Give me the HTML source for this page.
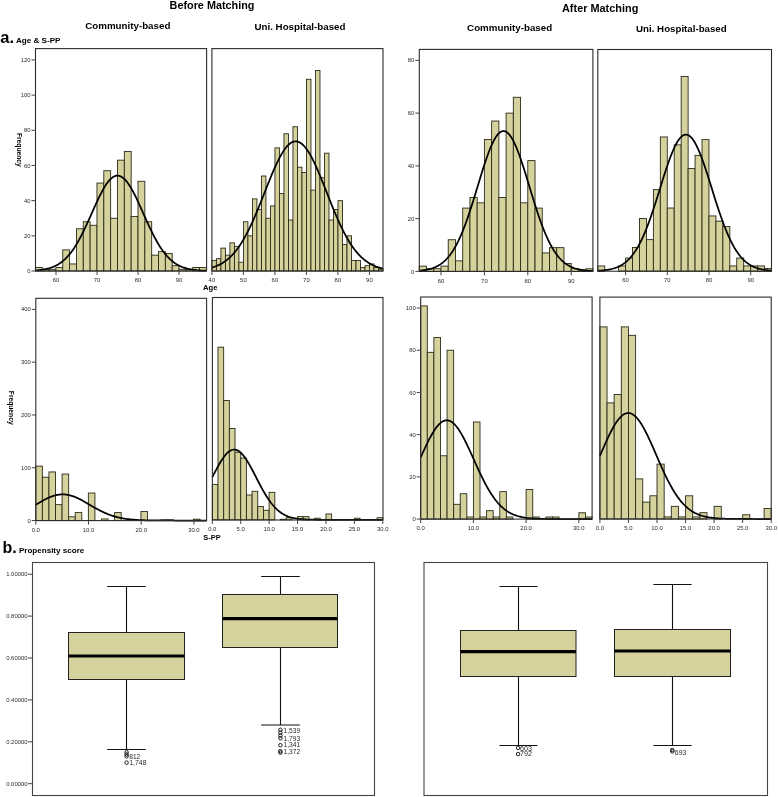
<!DOCTYPE html>
<html><head><meta charset="utf-8"><style>
html,body{margin:0;padding:0;background:#fff;}
body{width:778px;height:797px;overflow:hidden;}
svg{display:block;will-change:transform;}
text{font-family:"Liberation Sans",sans-serif;}
.tk{font-size:5.9px;fill:#2a2a2a;}
.ol{font-size:6.3px;fill:#2a2a2a;}
.h1{font-size:10.8px;font-weight:bold;fill:#000;}
.h2{font-size:9.2px;font-weight:bold;fill:#000;}
.h3{font-size:8px;font-weight:bold;fill:#000;}
.big{font-size:15.5px;font-weight:bold;fill:#000;}
.ax{font-size:6.7px;font-weight:bold;fill:#000;}
</style></head><body>
<svg width="778" height="797" viewBox="0 0 778 797">
<g fill="#d6d29d" stroke="#2b2b18" stroke-width="0.9"><rect x="35.4" y="267.48" width="6.84" height="3.52"/><rect x="42.24" y="269.24" width="6.84" height="1.76"/><rect x="49.08" y="269.24" width="6.84" height="1.76"/><rect x="55.92" y="267.48" width="6.84" height="3.52"/><rect x="62.76" y="249.89" width="6.84" height="21.11"/><rect x="69.6" y="263.96" width="6.84" height="7.04"/><rect x="76.44" y="228.78" width="6.84" height="42.22"/><rect x="83.28" y="221.75" width="6.84" height="49.25"/><rect x="90.12" y="225.27" width="6.84" height="45.73"/><rect x="96.96" y="183.05" width="6.84" height="87.95"/><rect x="103.8" y="170.74" width="6.84" height="100.26"/><rect x="110.64" y="218.23" width="6.84" height="52.77"/><rect x="117.48" y="160.18" width="6.84" height="110.82"/><rect x="124.32" y="151.39" width="6.84" height="119.61"/><rect x="131.16" y="216.47" width="6.84" height="54.53"/><rect x="138" y="181.29" width="6.84" height="89.71"/><rect x="144.84" y="221.75" width="6.84" height="49.25"/><rect x="151.68" y="255.17" width="6.84" height="15.83"/><rect x="158.52" y="251.65" width="6.84" height="19.35"/><rect x="165.36" y="253.41" width="6.84" height="17.59"/><rect x="172.2" y="265.72" width="6.84" height="5.28"/><rect x="179.04" y="269.24" width="6.84" height="1.76"/><rect x="185.88" y="269.24" width="6.84" height="1.76"/><rect x="192.72" y="267.48" width="6.84" height="3.52"/><rect x="199.56" y="267.48" width="6.84" height="3.52"/></g>
<polyline fill="none" stroke="#000" stroke-width="1.75" stroke-linejoin="round" points="35.5,270.41 36.35,270.35 37.21,270.27 38.06,270.2 38.91,270.11 39.76,270.01 40.62,269.91 41.47,269.8 42.32,269.68 43.18,269.54 44.03,269.39 44.88,269.24 45.73,269.06 46.59,268.88 47.44,268.68 48.29,268.46 49.14,268.22 50,267.97 50.85,267.69 51.7,267.4 52.56,267.08 53.41,266.74 54.26,266.37 55.11,265.98 55.97,265.57 56.82,265.12 57.67,264.64 58.53,264.14 59.38,263.6 60.23,263.03 61.08,262.42 61.94,261.78 62.79,261.1 63.64,260.38 64.5,259.62 65.35,258.82 66.2,257.98 67.05,257.1 67.91,256.17 68.76,255.2 69.61,254.18 70.46,253.12 71.32,252.01 72.17,250.86 73.02,249.66 73.88,248.41 74.73,247.11 75.58,245.77 76.43,244.38 77.29,242.95 78.14,241.47 78.99,239.95 79.85,238.39 80.7,236.78 81.55,235.14 82.4,233.46 83.26,231.74 84.11,229.99 84.96,228.21 85.82,226.39 86.67,224.56 87.52,222.7 88.37,220.82 89.23,218.93 90.08,217.02 90.93,215.11 91.78,213.19 92.64,211.28 93.49,209.36 94.34,207.46 95.2,205.57 96.05,203.69 96.9,201.84 97.75,200.02 98.61,198.23 99.46,196.47 100.31,194.76 101.17,193.09 102.02,191.47 102.87,189.91 103.72,188.41 104.58,186.98 105.43,185.61 106.28,184.32 107.14,183.1 107.99,181.97 108.84,180.92 109.69,179.96 110.55,179.09 111.4,178.31 112.25,177.63 113.1,177.05 113.96,176.56 114.81,176.18 115.66,175.91 116.52,175.73 117.37,175.66 118.22,175.7 119.07,175.84 119.93,176.09 120.78,176.44 121.63,176.89 122.49,177.44 123.34,178.09 124.19,178.84 125.04,179.68 125.9,180.61 126.75,181.64 127.6,182.75 128.46,183.94 129.31,185.21 130.16,186.55 131.01,187.97 131.87,189.45 132.72,190.99 133.57,192.59 134.42,194.24 135.28,195.94 136.13,197.68 136.98,199.46 137.84,201.28 138.69,203.12 139.54,204.99 140.39,206.87 141.25,208.78 142.1,210.69 142.95,212.6 143.81,214.52 144.66,216.44 145.51,218.34 146.36,220.24 147.22,222.12 148.07,223.99 148.92,225.83 149.78,227.65 150.63,229.44 151.48,231.2 152.33,232.93 153.19,234.63 154.04,236.28 154.89,237.9 155.74,239.48 156.6,241.01 157.45,242.5 158.3,243.95 159.16,245.35 160.01,246.71 160.86,248.01 161.71,249.28 162.57,250.49 163.42,251.66 164.27,252.79 165.13,253.86 165.98,254.89 166.83,255.88 167.68,256.82 168.54,257.71 169.39,258.57 170.24,259.38 171.1,260.15 171.95,260.88 172.8,261.57 173.65,262.23 174.51,262.84 175.36,263.43 176.21,263.98 177.06,264.49 177.92,264.98 178.77,265.43 179.62,265.86 180.48,266.26 181.33,266.63 182.18,266.98 183.03,267.3 183.89,267.6 184.74,267.88 185.59,268.14 186.45,268.39 187.3,268.61 188.15,268.82 189,269.01 189.86,269.18 190.71,269.35 191.56,269.5 192.42,269.63 193.27,269.76 194.12,269.88 194.97,269.98 195.83,270.08 196.68,270.17 197.53,270.25 198.38,270.32 199.24,270.39 200.09,270.45 200.94,270.51 201.8,270.56 202.65,270.6 203.5,270.65 204.35,270.68 205.21,270.72 206.06,270.75"/>
<rect x="35.5" y="48.6" width="171.1" height="222.4" fill="none" stroke="#2c2c2c" stroke-width="1.1"/>
<line x1="31.5" y1="271" x2="35.5" y2="271" stroke="#444" stroke-width="1"/>
<text x="30.5" y="273.1" class="tk" text-anchor="end">0</text>
<line x1="31.5" y1="235.82" x2="35.5" y2="235.82" stroke="#444" stroke-width="1"/>
<text x="30.5" y="237.92" class="tk" text-anchor="end">20</text>
<line x1="31.5" y1="200.64" x2="35.5" y2="200.64" stroke="#444" stroke-width="1"/>
<text x="30.5" y="202.74" class="tk" text-anchor="end">40</text>
<line x1="31.5" y1="165.46" x2="35.5" y2="165.46" stroke="#444" stroke-width="1"/>
<text x="30.5" y="167.56" class="tk" text-anchor="end">60</text>
<line x1="31.5" y1="130.28" x2="35.5" y2="130.28" stroke="#444" stroke-width="1"/>
<text x="30.5" y="132.38" class="tk" text-anchor="end">80</text>
<line x1="31.5" y1="95.1" x2="35.5" y2="95.1" stroke="#444" stroke-width="1"/>
<text x="30.5" y="97.2" class="tk" text-anchor="end">100</text>
<line x1="31.5" y1="59.92" x2="35.5" y2="59.92" stroke="#444" stroke-width="1"/>
<text x="30.5" y="62.02" class="tk" text-anchor="end">120</text>
<line x1="56" y1="271" x2="56" y2="275" stroke="#444" stroke-width="1"/>
<text x="56" y="282.1" class="tk" text-anchor="middle">60</text>
<line x1="97" y1="271" x2="97" y2="275" stroke="#444" stroke-width="1"/>
<text x="97" y="282.1" class="tk" text-anchor="middle">70</text>
<line x1="138" y1="271" x2="138" y2="275" stroke="#444" stroke-width="1"/>
<text x="138" y="282.1" class="tk" text-anchor="middle">80</text>
<line x1="179" y1="271" x2="179" y2="275" stroke="#444" stroke-width="1"/>
<text x="179" y="282.1" class="tk" text-anchor="middle">90</text>
<g fill="#d6d29d" stroke="#2b2b18" stroke-width="0.9"><rect x="211.9" y="260.45" width="4.5" height="10.55"/><rect x="216.4" y="258.69" width="4.5" height="12.31"/><rect x="220.91" y="248.13" width="4.5" height="22.87"/><rect x="225.41" y="255.17" width="4.5" height="15.83"/><rect x="229.91" y="242.86" width="4.5" height="28.14"/><rect x="234.42" y="246.37" width="4.5" height="24.63"/><rect x="238.92" y="262.2" width="4.5" height="8.8"/><rect x="243.42" y="221.75" width="4.5" height="49.25"/><rect x="247.92" y="235.82" width="4.5" height="35.18"/><rect x="252.43" y="198.88" width="4.5" height="72.12"/><rect x="256.93" y="209.44" width="4.5" height="61.56"/><rect x="261.43" y="176.01" width="4.5" height="94.99"/><rect x="265.94" y="218.23" width="4.5" height="52.77"/><rect x="270.44" y="205.92" width="4.5" height="65.08"/><rect x="274.94" y="147.87" width="4.5" height="123.13"/><rect x="279.44" y="193.6" width="4.5" height="77.4"/><rect x="283.95" y="133.8" width="4.5" height="137.2"/><rect x="288.45" y="219.99" width="4.5" height="51.01"/><rect x="292.95" y="126.76" width="4.5" height="144.24"/><rect x="297.46" y="167.22" width="4.5" height="103.78"/><rect x="301.96" y="172.5" width="4.5" height="98.5"/><rect x="306.46" y="79.27" width="4.5" height="191.73"/><rect x="310.97" y="190.09" width="4.5" height="80.91"/><rect x="315.47" y="70.47" width="4.5" height="200.53"/><rect x="319.97" y="177.77" width="4.5" height="93.23"/><rect x="324.48" y="153.15" width="4.5" height="117.85"/><rect x="328.98" y="219.99" width="4.5" height="51.01"/><rect x="333.48" y="209.44" width="4.5" height="61.56"/><rect x="337.98" y="200.64" width="4.5" height="70.36"/><rect x="342.49" y="244.62" width="4.5" height="26.38"/><rect x="346.99" y="235.82" width="4.5" height="35.18"/><rect x="351.49" y="260.45" width="4.5" height="10.55"/><rect x="356" y="260.45" width="4.5" height="10.55"/><rect x="360.5" y="267.48" width="4.5" height="3.52"/><rect x="365" y="265.72" width="4.5" height="5.28"/><rect x="369.5" y="263.96" width="4.5" height="7.04"/><rect x="374.01" y="267.48" width="4.5" height="3.52"/><rect x="378.51" y="269.24" width="4.5" height="1.76"/></g>
<polyline fill="none" stroke="#000" stroke-width="1.75" stroke-linejoin="round" points="211.9,267.62 212.76,267.36 213.61,267.08 214.47,266.79 215.32,266.47 216.18,266.14 217.03,265.79 217.89,265.41 218.74,265.01 219.6,264.59 220.45,264.15 221.31,263.68 222.16,263.18 223.02,262.65 223.87,262.1 224.73,261.52 225.58,260.9 226.44,260.26 227.29,259.58 228.15,258.87 229,258.13 229.86,257.35 230.71,256.53 231.57,255.68 232.43,254.78 233.28,253.85 234.14,252.88 234.99,251.87 235.85,250.82 236.7,249.73 237.56,248.59 238.41,247.41 239.27,246.19 240.12,244.92 240.98,243.61 241.83,242.26 242.69,240.86 243.54,239.42 244.4,237.94 245.25,236.41 246.11,234.84 246.96,233.22 247.82,231.57 248.67,229.87 249.53,228.13 250.39,226.36 251.24,224.54 252.1,222.69 252.95,220.8 253.81,218.88 254.66,216.92 255.52,214.93 256.37,212.92 257.23,210.88 258.08,208.81 258.94,206.72 259.79,204.61 260.65,202.49 261.5,200.35 262.36,198.2 263.21,196.04 264.07,193.87 264.92,191.71 265.78,189.54 266.63,187.38 267.49,185.23 268.34,183.08 269.2,180.96 270.06,178.85 270.91,176.76 271.77,174.7 272.62,172.67 273.48,170.67 274.33,168.71 275.19,166.79 276.04,164.91 276.9,163.09 277.75,161.31 278.61,159.59 279.46,157.93 280.32,156.33 281.17,154.8 282.03,153.34 282.88,151.95 283.74,150.63 284.59,149.39 285.45,148.23 286.3,147.16 287.16,146.17 288.02,145.27 288.87,144.46 289.73,143.74 290.58,143.11 291.44,142.57 292.29,142.14 293.15,141.8 294,141.55 294.86,141.41 295.71,141.36 296.57,141.41 297.42,141.56 298.28,141.81 299.13,142.16 299.99,142.6 300.84,143.14 301.7,143.77 302.55,144.5 303.41,145.31 304.26,146.22 305.12,147.21 305.97,148.29 306.83,149.45 307.69,150.7 308.54,152.02 309.4,153.41 310.25,154.88 311.11,156.41 311.96,158.02 312.82,159.68 313.67,161.4 314.53,163.18 315.38,165.01 316.24,166.89 317.09,168.81 317.95,170.77 318.8,172.77 319.66,174.8 320.51,176.87 321.37,178.96 322.22,181.07 323.08,183.19 323.93,185.34 324.79,187.49 325.64,189.65 326.5,191.82 327.36,193.99 328.21,196.15 329.07,198.31 329.92,200.46 330.78,202.6 331.63,204.72 332.49,206.83 333.34,208.92 334.2,210.98 335.05,213.02 335.91,215.04 336.76,217.02 337.62,218.98 338.47,220.9 339.33,222.78 340.18,224.63 341.04,226.45 341.89,228.22 342.75,229.96 343.6,231.65 344.46,233.31 345.32,234.92 346.17,236.49 347.03,238.02 347.88,239.5 348.74,240.94 349.59,242.33 350.45,243.68 351.3,244.99 352.16,246.25 353.01,247.47 353.87,248.65 354.72,249.78 355.58,250.87 356.43,251.92 357.29,252.93 358.14,253.9 359,254.83 359.85,255.72 360.71,256.57 361.56,257.39 362.42,258.17 363.27,258.91 364.13,259.62 364.99,260.29 365.84,260.94 366.7,261.55 367.55,262.13 368.41,262.68 369.26,263.2 370.12,263.7 370.97,264.17 371.83,264.61 372.68,265.03 373.54,265.43 374.39,265.8 375.25,266.16 376.1,266.49 376.96,266.8 377.81,267.1 378.67,267.37 379.52,267.63 380.38,267.87 381.23,268.1 382.09,268.31 382.94,268.51"/>
<rect x="211.9" y="48.6" width="171.1" height="222.4" fill="none" stroke="#2c2c2c" stroke-width="1.1"/>
<line x1="211.9" y1="271" x2="211.9" y2="275" stroke="#444" stroke-width="1"/>
<text x="211.9" y="282.1" class="tk" text-anchor="middle">40</text>
<line x1="243.4" y1="271" x2="243.4" y2="275" stroke="#444" stroke-width="1"/>
<text x="243.4" y="282.1" class="tk" text-anchor="middle">50</text>
<line x1="274.9" y1="271" x2="274.9" y2="275" stroke="#444" stroke-width="1"/>
<text x="274.9" y="282.1" class="tk" text-anchor="middle">60</text>
<line x1="306.4" y1="271" x2="306.4" y2="275" stroke="#444" stroke-width="1"/>
<text x="306.4" y="282.1" class="tk" text-anchor="middle">70</text>
<line x1="337.9" y1="271" x2="337.9" y2="275" stroke="#444" stroke-width="1"/>
<text x="337.9" y="282.1" class="tk" text-anchor="middle">80</text>
<line x1="369.4" y1="271" x2="369.4" y2="275" stroke="#444" stroke-width="1"/>
<text x="369.4" y="282.1" class="tk" text-anchor="middle">90</text>
<g fill="#d6d29d" stroke="#2b2b18" stroke-width="0.9"><rect x="419.3" y="266.12" width="7.23" height="5.28"/><rect x="426.53" y="268.76" width="7.23" height="2.64"/><rect x="433.77" y="268.76" width="7.23" height="2.64"/><rect x="441" y="266.12" width="7.23" height="5.28"/><rect x="448.23" y="239.74" width="7.23" height="31.66"/><rect x="455.47" y="260.85" width="7.23" height="10.55"/><rect x="462.7" y="208.09" width="7.23" height="63.31"/><rect x="469.93" y="197.54" width="7.23" height="73.86"/><rect x="477.16" y="202.81" width="7.23" height="68.59"/><rect x="484.4" y="139.5" width="7.23" height="131.9"/><rect x="491.63" y="121.03" width="7.23" height="150.37"/><rect x="498.86" y="197.54" width="7.23" height="73.86"/><rect x="506.1" y="113.12" width="7.23" height="158.28"/><rect x="513.33" y="97.29" width="7.23" height="174.11"/><rect x="520.56" y="202.81" width="7.23" height="68.59"/><rect x="527.79" y="160.6" width="7.23" height="110.8"/><rect x="535.03" y="208.09" width="7.23" height="63.31"/><rect x="542.26" y="252.93" width="7.23" height="18.47"/><rect x="549.49" y="247.66" width="7.23" height="23.74"/><rect x="556.73" y="247.66" width="7.23" height="23.74"/><rect x="563.96" y="263.49" width="7.23" height="7.91"/><rect x="571.19" y="268.76" width="7.23" height="2.64"/><rect x="578.43" y="270.08" width="7.23" height="1.32"/><rect x="585.66" y="268.76" width="7.23" height="2.64"/></g>
<polyline fill="none" stroke="#000" stroke-width="1.75" stroke-linejoin="round" points="419.3,270.71 420.17,270.63 421.04,270.54 421.9,270.45 422.77,270.34 423.64,270.22 424.51,270.1 425.38,269.95 426.24,269.8 427.11,269.63 427.98,269.45 428.85,269.25 429.72,269.03 430.58,268.79 431.45,268.54 432.32,268.26 433.19,267.95 434.06,267.62 434.92,267.27 435.79,266.89 436.66,266.47 437.53,266.03 438.4,265.55 439.26,265.04 440.13,264.49 441,263.9 441.87,263.26 442.74,262.59 443.6,261.87 444.47,261.1 445.34,260.29 446.21,259.42 447.08,258.5 447.94,257.52 448.81,256.49 449.68,255.4 450.55,254.25 451.42,253.04 452.28,251.76 453.15,250.42 454.02,249.01 454.89,247.53 455.76,245.99 456.62,244.38 457.49,242.69 458.36,240.94 459.23,239.11 460.1,237.22 460.96,235.25 461.83,233.21 462.7,231.11 463.57,228.93 464.44,226.69 465.3,224.39 466.17,222.02 467.04,219.59 467.91,217.11 468.78,214.56 469.64,211.97 470.51,209.33 471.38,206.64 472.25,203.91 473.12,201.15 473.98,198.36 474.85,195.54 475.72,192.7 476.59,189.85 477.46,186.99 478.32,184.13 479.19,181.28 480.06,178.43 480.93,175.61 481.8,172.81 482.66,170.04 483.53,167.31 484.4,164.63 485.27,162.01 486.14,159.44 487,156.95 487.87,154.53 488.74,152.2 489.61,149.96 490.48,147.81 491.34,145.77 492.21,143.84 493.08,142.02 493.95,140.33 494.82,138.77 495.68,137.34 496.55,136.04 497.42,134.89 498.29,133.88 499.16,133.03 500.02,132.32 500.89,131.77 501.76,131.38 502.63,131.14 503.5,131.06 504.36,131.14 505.23,131.38 506.1,131.77 506.97,132.32 507.84,133.03 508.7,133.88 509.57,134.89 510.44,136.04 511.31,137.34 512.18,138.77 513.04,140.33 513.91,142.02 514.78,143.84 515.65,145.77 516.52,147.81 517.38,149.96 518.25,152.2 519.12,154.53 519.99,156.95 520.86,159.44 521.72,162.01 522.59,164.63 523.46,167.31 524.33,170.04 525.2,172.81 526.06,175.61 526.93,178.43 527.8,181.28 528.67,184.13 529.54,186.99 530.4,189.85 531.27,192.7 532.14,195.54 533.01,198.36 533.88,201.15 534.74,203.91 535.61,206.64 536.48,209.33 537.35,211.97 538.22,214.56 539.08,217.11 539.95,219.59 540.82,222.02 541.69,224.39 542.56,226.69 543.42,228.93 544.29,231.11 545.16,233.21 546.03,235.25 546.9,237.22 547.76,239.11 548.63,240.94 549.5,242.69 550.37,244.38 551.24,245.99 552.1,247.53 552.97,249.01 553.84,250.42 554.71,251.76 555.58,253.04 556.44,254.25 557.31,255.4 558.18,256.49 559.05,257.52 559.92,258.5 560.78,259.42 561.65,260.29 562.52,261.1 563.39,261.87 564.26,262.59 565.12,263.26 565.99,263.9 566.86,264.49 567.73,265.04 568.6,265.55 569.46,266.03 570.33,266.47 571.2,266.89 572.07,267.27 572.94,267.62 573.8,267.95 574.67,268.26 575.54,268.54 576.41,268.79 577.28,269.03 578.14,269.25 579.01,269.45 579.88,269.63 580.75,269.8 581.62,269.95 582.48,270.1 583.35,270.22 584.22,270.34 585.09,270.45 585.96,270.54 586.82,270.63 587.69,270.71 588.56,270.78 589.43,270.85 590.3,270.91 591.16,270.96 592.03,271.01 592.9,271.05"/>
<rect x="419.3" y="49.4" width="173.6" height="222" fill="none" stroke="#2c2c2c" stroke-width="1.1"/>
<line x1="415.3" y1="271.4" x2="419.3" y2="271.4" stroke="#444" stroke-width="1"/>
<text x="414.3" y="273.5" class="tk" text-anchor="end">0</text>
<line x1="415.3" y1="218.64" x2="419.3" y2="218.64" stroke="#444" stroke-width="1"/>
<text x="414.3" y="220.74" class="tk" text-anchor="end">20</text>
<line x1="415.3" y1="165.88" x2="419.3" y2="165.88" stroke="#444" stroke-width="1"/>
<text x="414.3" y="167.98" class="tk" text-anchor="end">40</text>
<line x1="415.3" y1="113.12" x2="419.3" y2="113.12" stroke="#444" stroke-width="1"/>
<text x="414.3" y="115.22" class="tk" text-anchor="end">60</text>
<line x1="415.3" y1="60.36" x2="419.3" y2="60.36" stroke="#444" stroke-width="1"/>
<text x="414.3" y="62.46" class="tk" text-anchor="end">80</text>
<line x1="441" y1="271.4" x2="441" y2="275.4" stroke="#444" stroke-width="1"/>
<text x="441" y="282.5" class="tk" text-anchor="middle">60</text>
<line x1="484.4" y1="271.4" x2="484.4" y2="275.4" stroke="#444" stroke-width="1"/>
<text x="484.4" y="282.5" class="tk" text-anchor="middle">70</text>
<line x1="527.8" y1="271.4" x2="527.8" y2="275.4" stroke="#444" stroke-width="1"/>
<text x="527.8" y="282.5" class="tk" text-anchor="middle">80</text>
<line x1="571.2" y1="271.4" x2="571.2" y2="275.4" stroke="#444" stroke-width="1"/>
<text x="571.2" y="282.5" class="tk" text-anchor="middle">90</text>
<g fill="#d6d29d" stroke="#2b2b18" stroke-width="0.9"><rect x="597.8" y="265.94" width="6.95" height="5.26"/><rect x="618.64" y="265.94" width="6.95" height="5.26"/><rect x="625.59" y="258.04" width="6.95" height="13.16"/><rect x="632.54" y="247.51" width="6.95" height="23.69"/><rect x="639.49" y="218.56" width="6.95" height="52.64"/><rect x="646.44" y="239.62" width="6.95" height="31.58"/><rect x="653.38" y="189.61" width="6.95" height="81.59"/><rect x="660.33" y="136.97" width="6.95" height="134.23"/><rect x="667.28" y="208.03" width="6.95" height="63.17"/><rect x="674.23" y="144.86" width="6.95" height="126.34"/><rect x="681.18" y="76.43" width="6.95" height="194.77"/><rect x="688.12" y="168.55" width="6.95" height="102.65"/><rect x="695.07" y="155.39" width="6.95" height="115.81"/><rect x="702.02" y="139.6" width="6.95" height="131.6"/><rect x="708.97" y="215.93" width="6.95" height="55.27"/><rect x="715.92" y="221.19" width="6.95" height="50.01"/><rect x="722.86" y="226.46" width="6.95" height="44.74"/><rect x="729.81" y="265.94" width="6.95" height="5.26"/><rect x="736.76" y="258.04" width="6.95" height="13.16"/><rect x="743.71" y="265.94" width="6.95" height="5.26"/><rect x="750.66" y="265.94" width="6.95" height="5.26"/><rect x="757.6" y="265.94" width="6.95" height="5.26"/><rect x="764.55" y="268.57" width="6.95" height="2.63"/></g>
<polyline fill="none" stroke="#000" stroke-width="1.75" stroke-linejoin="round" points="597.8,270.79 598.67,270.74 599.54,270.69 600.41,270.62 601.28,270.56 602.14,270.48 603.01,270.4 603.88,270.31 604.75,270.21 605.62,270.1 606.49,269.98 607.36,269.85 608.23,269.7 609.09,269.55 609.96,269.37 610.83,269.19 611.7,268.98 612.57,268.76 613.44,268.51 614.31,268.25 615.18,267.96 616.05,267.65 616.91,267.32 617.78,266.96 618.65,266.57 619.52,266.15 620.39,265.7 621.26,265.21 622.13,264.69 623,264.13 623.86,263.53 624.73,262.89 625.6,262.21 626.47,261.48 627.34,260.71 628.21,259.88 629.08,259.01 629.95,258.08 630.82,257.1 631.68,256.06 632.55,254.96 633.42,253.81 634.29,252.59 635.16,251.31 636.03,249.96 636.9,248.55 637.77,247.08 638.63,245.54 639.5,243.92 640.37,242.24 641.24,240.5 642.11,238.68 642.98,236.79 643.85,234.84 644.72,232.82 645.59,230.73 646.45,228.58 647.32,226.36 648.19,224.08 649.06,221.74 649.93,219.34 650.8,216.89 651.67,214.38 652.54,211.83 653.4,209.23 654.27,206.6 655.14,203.92 656.01,201.22 656.88,198.48 657.75,195.73 658.62,192.96 659.49,190.18 660.36,187.4 661.22,184.61 662.09,181.84 662.96,179.08 663.83,176.35 664.7,173.64 665.57,170.97 666.44,168.34 667.31,165.76 668.17,163.24 669.04,160.79 669.91,158.41 670.78,156.1 671.65,153.88 672.52,151.75 673.39,149.72 674.26,147.8 675.12,145.99 675.99,144.29 676.86,142.72 677.73,141.27 678.6,139.95 679.47,138.78 680.34,137.74 681.21,136.84 682.08,136.1 682.94,135.5 683.81,135.05 684.68,134.75 685.55,134.61 686.42,134.63 687.29,134.79 688.16,135.11 689.03,135.59 689.89,136.21 690.76,136.98 691.63,137.9 692.5,138.96 693.37,140.17 694.24,141.5 695.11,142.97 695.98,144.57 696.85,146.28 697.71,148.12 698.58,150.06 699.45,152.1 700.32,154.25 701.19,156.48 702.06,158.8 702.93,161.2 703.8,163.66 704.66,166.19 705.53,168.78 706.4,171.42 707.27,174.09 708.14,176.81 709.01,179.55 709.88,182.31 710.75,185.08 711.62,187.86 712.48,190.65 713.35,193.43 714.22,196.19 715.09,198.94 715.96,201.67 716.83,204.37 717.7,207.04 718.57,209.67 719.43,212.26 720.3,214.81 721.17,217.3 722.04,219.75 722.91,222.14 723.78,224.47 724.65,226.74 725.52,228.94 726.39,231.09 727.25,233.16 728.12,235.17 728.99,237.12 729.86,238.99 730.73,240.8 731.6,242.53 732.47,244.2 733.34,245.8 734.2,247.33 735.07,248.8 735.94,250.2 736.81,251.53 737.68,252.8 738.55,254.01 739.42,255.15 740.29,256.24 741.16,257.27 742.02,258.24 742.89,259.16 743.76,260.02 744.63,260.84 745.5,261.61 746.37,262.33 747.24,263 748.11,263.63 748.97,264.23 749.84,264.78 750.71,265.29 751.58,265.77 752.45,266.22 753.32,266.64 754.19,267.02 755.06,267.38 755.93,267.71 756.79,268.01 757.66,268.3 758.53,268.56 759.4,268.8 760.27,269.02 761.14,269.22 762.01,269.4 762.88,269.57 763.74,269.73 764.61,269.87 765.48,270 766.35,270.12 767.22,270.23 768.09,270.33 768.96,270.41 769.83,270.5 770.7,270.57 771.56,270.63"/>
<rect x="597.8" y="49.5" width="173.7" height="221.7" fill="none" stroke="#2c2c2c" stroke-width="1.1"/>
<line x1="625.61" y1="271.2" x2="625.61" y2="275.2" stroke="#444" stroke-width="1"/>
<text x="625.61" y="282.3" class="tk" text-anchor="middle">60</text>
<line x1="667.31" y1="271.2" x2="667.31" y2="275.2" stroke="#444" stroke-width="1"/>
<text x="667.31" y="282.3" class="tk" text-anchor="middle">70</text>
<line x1="709.01" y1="271.2" x2="709.01" y2="275.2" stroke="#444" stroke-width="1"/>
<text x="709.01" y="282.3" class="tk" text-anchor="middle">80</text>
<line x1="750.71" y1="271.2" x2="750.71" y2="275.2" stroke="#444" stroke-width="1"/>
<text x="750.71" y="282.3" class="tk" text-anchor="middle">90</text>
<g fill="#d6d29d" stroke="#2b2b18" stroke-width="0.9"><rect x="35.8" y="466.14" width="6.57" height="54.36"/><rect x="42.37" y="477.22" width="6.57" height="43.28"/><rect x="48.94" y="471.94" width="6.57" height="48.56"/><rect x="55.51" y="504.67" width="6.57" height="15.83"/><rect x="62.08" y="474.05" width="6.57" height="46.45"/><rect x="68.65" y="516.81" width="6.57" height="3.69"/><rect x="75.22" y="512.58" width="6.57" height="7.92"/><rect x="88.36" y="493.05" width="6.57" height="27.45"/><rect x="101.5" y="518.92" width="6.57" height="1.58"/><rect x="114.64" y="512.58" width="6.57" height="7.92"/><rect x="140.92" y="511.53" width="6.57" height="8.97"/><rect x="160.63" y="519.97" width="6.57" height="0.53"/><rect x="167.2" y="519.97" width="6.57" height="0.53"/><rect x="193.48" y="519.18" width="6.57" height="1.32"/></g>
<polyline fill="none" stroke="#000" stroke-width="1.75" stroke-linejoin="round" points="35.8,504.65 36.65,504.15 37.51,503.65 38.36,503.15 39.21,502.65 40.07,502.16 40.92,501.67 41.78,501.19 42.63,500.72 43.48,500.25 44.34,499.8 45.19,499.36 46.04,498.93 46.9,498.51 47.75,498.11 48.61,497.72 49.46,497.35 50.31,497 51.17,496.66 52.02,496.35 52.87,496.05 53.73,495.78 54.58,495.53 55.44,495.31 56.29,495.1 57.14,494.92 58,494.77 58.85,494.64 59.7,494.53 60.56,494.45 61.41,494.4 62.27,494.38 63.12,494.38 63.97,494.4 64.83,494.46 65.68,494.54 66.53,494.64 67.39,494.77 68.24,494.93 69.1,495.11 69.95,495.31 70.8,495.54 71.66,495.79 72.51,496.07 73.36,496.36 74.22,496.67 75.07,497.01 75.93,497.36 76.78,497.73 77.63,498.12 78.49,498.52 79.34,498.94 80.19,499.37 81.05,499.82 81.9,500.27 82.76,500.74 83.61,501.21 84.46,501.69 85.32,502.18 86.17,502.67 87.02,503.17 87.88,503.67 88.73,504.17 89.59,504.67 90.44,505.18 91.29,505.68 92.15,506.18 93,506.68 93.85,507.17 94.71,507.66 95.56,508.14 96.42,508.62 97.27,509.09 98.12,509.55 98.98,510.01 99.83,510.45 100.68,510.89 101.54,511.31 102.39,511.73 103.25,512.14 104.1,512.53 104.95,512.92 105.81,513.29 106.66,513.65 107.51,514 108.37,514.34 109.22,514.67 110.08,514.98 110.93,515.29 111.78,515.58 112.64,515.86 113.49,516.13 114.34,516.38 115.2,516.63 116.05,516.86 116.91,517.09 117.76,517.3 118.61,517.5 119.47,517.7 120.32,517.88 121.17,518.05 122.03,518.22 122.88,518.37 123.74,518.52 124.59,518.66 125.44,518.79 126.3,518.91 127.15,519.03 128,519.14 128.86,519.24 129.71,519.34 130.57,519.42 131.42,519.51 132.27,519.59 133.13,519.66 133.98,519.73 134.83,519.79 135.69,519.85 136.54,519.9 137.4,519.95 138.25,520 139.1,520.04 139.96,520.08 140.81,520.12 141.66,520.15 142.52,520.18 143.37,520.21 144.22,520.24 145.08,520.26 145.93,520.28 146.79,520.3 147.64,520.32 148.49,520.34 149.35,520.36 150.2,520.37 151.05,520.38 151.91,520.39 152.76,520.41 153.62,520.41 154.47,520.42 155.32,520.43 156.18,520.44 157.03,520.44 157.88,520.45 158.74,520.46 159.59,520.46 160.45,520.47 161.3,520.47 162.15,520.47 163.01,520.48 163.86,520.48 164.71,520.48 165.57,520.48 166.42,520.48 167.28,520.49 168.13,520.49 168.98,520.49 169.84,520.49 170.69,520.49 171.54,520.49 172.4,520.49 173.25,520.49 174.11,520.5 174.96,520.5 175.81,520.5 176.67,520.5 177.52,520.5 178.37,520.5 179.23,520.5 180.08,520.5 180.94,520.5 181.79,520.5 182.64,520.5 183.5,520.5 184.35,520.5 185.2,520.5 186.06,520.5 186.91,520.5 187.77,520.5 188.62,520.5 189.47,520.5 190.33,520.5 191.18,520.5 192.03,520.5 192.89,520.5 193.74,520.5 194.6,520.5 195.45,520.5 196.3,520.5 197.16,520.5 198.01,520.5 198.86,520.5 199.72,520.5 200.57,520.5 201.43,520.5 202.28,520.5 203.13,520.5 203.99,520.5 204.84,520.5 205.69,520.5 206.55,520.5"/>
<rect x="35.8" y="298.3" width="170.8" height="222.3" fill="none" stroke="#2c2c2c" stroke-width="1.1"/>
<line x1="31.8" y1="520.5" x2="35.8" y2="520.5" stroke="#444" stroke-width="1"/>
<text x="30.8" y="522.6" class="tk" text-anchor="end">0</text>
<line x1="31.8" y1="467.72" x2="35.8" y2="467.72" stroke="#444" stroke-width="1"/>
<text x="30.8" y="469.82" class="tk" text-anchor="end">100</text>
<line x1="31.8" y1="414.94" x2="35.8" y2="414.94" stroke="#444" stroke-width="1"/>
<text x="30.8" y="417.04" class="tk" text-anchor="end">200</text>
<line x1="31.8" y1="362.16" x2="35.8" y2="362.16" stroke="#444" stroke-width="1"/>
<text x="30.8" y="364.26" class="tk" text-anchor="end">300</text>
<line x1="31.8" y1="309.38" x2="35.8" y2="309.38" stroke="#444" stroke-width="1"/>
<text x="30.8" y="311.48" class="tk" text-anchor="end">400</text>
<line x1="35.8" y1="520.6" x2="35.8" y2="524.6" stroke="#444" stroke-width="1"/>
<text x="35.8" y="531.7" class="tk" text-anchor="middle">0.0</text>
<line x1="88.5" y1="520.6" x2="88.5" y2="524.6" stroke="#444" stroke-width="1"/>
<text x="88.5" y="531.7" class="tk" text-anchor="middle">10.0</text>
<line x1="141.2" y1="520.6" x2="141.2" y2="524.6" stroke="#444" stroke-width="1"/>
<text x="141.2" y="531.7" class="tk" text-anchor="middle">20.0</text>
<line x1="193.9" y1="520.6" x2="193.9" y2="524.6" stroke="#444" stroke-width="1"/>
<text x="193.9" y="531.7" class="tk" text-anchor="middle">30.0</text>
<g fill="#d6d29d" stroke="#2b2b18" stroke-width="0.9"><rect x="212.3" y="484.44" width="5.68" height="35.36"/><rect x="217.98" y="347.21" width="5.68" height="172.59"/><rect x="223.67" y="400.52" width="5.68" height="119.28"/><rect x="229.35" y="428.49" width="5.68" height="91.31"/><rect x="235.03" y="452.24" width="5.68" height="67.56"/><rect x="240.72" y="458.05" width="5.68" height="61.75"/><rect x="246.4" y="494.99" width="5.68" height="24.81"/><rect x="252.08" y="491.3" width="5.68" height="28.5"/><rect x="257.76" y="506.6" width="5.68" height="13.19"/><rect x="263.45" y="510.3" width="5.68" height="9.5"/><rect x="269.13" y="492.35" width="5.68" height="27.45"/><rect x="280.5" y="519.27" width="5.68" height="0.53"/><rect x="286.18" y="517.69" width="5.68" height="2.11"/><rect x="297.55" y="516.63" width="5.68" height="3.17"/><rect x="303.23" y="516.63" width="5.68" height="3.17"/><rect x="314.59" y="518.22" width="5.68" height="1.58"/><rect x="325.96" y="513.99" width="5.68" height="5.81"/><rect x="354.38" y="518.22" width="5.68" height="1.58"/><rect x="377.11" y="517.69" width="5.68" height="2.11"/></g>
<polyline fill="none" stroke="#000" stroke-width="1.75" stroke-linejoin="round" points="212.3,477.22 213.15,475.57 214,473.91 214.86,472.27 215.71,470.64 216.56,469.04 217.41,467.46 218.27,465.92 219.12,464.41 219.97,462.95 220.82,461.53 221.68,460.18 222.53,458.88 223.38,457.65 224.23,456.49 225.09,455.41 225.94,454.41 226.79,453.49 227.64,452.67 228.5,451.93 229.35,451.29 230.2,450.75 231.05,450.32 231.91,449.98 232.76,449.75 233.61,449.63 234.46,449.61 235.32,449.7 236.17,449.89 237.02,450.19 237.87,450.6 238.73,451.1 239.58,451.71 240.43,452.41 241.28,453.21 242.14,454.09 242.99,455.07 243.84,456.12 244.69,457.26 245.55,458.46 246.4,459.74 247.25,461.07 248.1,462.47 248.96,463.92 249.81,465.41 250.66,466.94 251.51,468.51 252.37,470.11 253.22,471.73 254.07,473.36 254.92,475.01 255.77,476.67 256.63,478.33 257.48,479.98 258.33,481.63 259.18,483.27 260.04,484.88 260.89,486.48 261.74,488.05 262.59,489.6 263.45,491.11 264.3,492.59 265.15,494.03 266,495.43 266.86,496.79 267.71,498.1 268.56,499.38 269.41,500.61 270.27,501.79 271.12,502.92 271.97,504.01 272.82,505.05 273.68,506.04 274.53,506.98 275.38,507.88 276.23,508.73 277.09,509.54 277.94,510.3 278.79,511.02 279.64,511.7 280.5,512.33 281.35,512.93 282.2,513.49 283.05,514.01 283.91,514.49 284.76,514.95 285.61,515.37 286.46,515.76 287.32,516.12 288.17,516.46 289.02,516.77 289.87,517.05 290.73,517.31 291.58,517.55 292.43,517.77 293.28,517.97 294.14,518.16 294.99,518.32 295.84,518.48 296.69,518.62 297.55,518.74 298.4,518.85 299.25,518.96 300.1,519.05 300.95,519.13 301.81,519.21 302.66,519.28 303.51,519.34 304.36,519.39 305.22,519.44 306.07,519.48 306.92,519.52 307.77,519.55 308.63,519.59 309.48,519.61 310.33,519.64 311.18,519.66 312.04,519.68 312.89,519.69 313.74,519.71 314.59,519.72 315.45,519.73 316.3,519.74 317.15,519.75 318,519.75 318.86,519.76 319.71,519.77 320.56,519.77 321.41,519.78 322.27,519.78 323.12,519.78 323.97,519.78 324.82,519.79 325.68,519.79 326.53,519.79 327.38,519.79 328.23,519.79 329.09,519.79 329.94,519.8 330.79,519.8 331.64,519.8 332.5,519.8 333.35,519.8 334.2,519.8 335.05,519.8 335.91,519.8 336.76,519.8 337.61,519.8 338.46,519.8 339.32,519.8 340.17,519.8 341.02,519.8 341.87,519.8 342.72,519.8 343.58,519.8 344.43,519.8 345.28,519.8 346.13,519.8 346.99,519.8 347.84,519.8 348.69,519.8 349.54,519.8 350.4,519.8 351.25,519.8 352.1,519.8 352.95,519.8 353.81,519.8 354.66,519.8 355.51,519.8 356.36,519.8 357.22,519.8 358.07,519.8 358.92,519.8 359.77,519.8 360.63,519.8 361.48,519.8 362.33,519.8 363.18,519.8 364.04,519.8 364.89,519.8 365.74,519.8 366.59,519.8 367.45,519.8 368.3,519.8 369.15,519.8 370,519.8 370.86,519.8 371.71,519.8 372.56,519.8 373.41,519.8 374.27,519.8 375.12,519.8 375.97,519.8 376.82,519.8 377.68,519.8 378.53,519.8 379.38,519.8 380.23,519.8 381.09,519.8 381.94,519.8 382.79,519.8"/>
<rect x="212.4" y="297.5" width="170.6" height="222.5" fill="none" stroke="#2c2c2c" stroke-width="1.1"/>
<line x1="212.3" y1="520" x2="212.3" y2="524" stroke="#444" stroke-width="1"/>
<text x="212.3" y="531.1" class="tk" text-anchor="middle">0.0</text>
<line x1="240.72" y1="520" x2="240.72" y2="524" stroke="#444" stroke-width="1"/>
<text x="240.72" y="531.1" class="tk" text-anchor="middle">5.0</text>
<line x1="269.13" y1="520" x2="269.13" y2="524" stroke="#444" stroke-width="1"/>
<text x="269.13" y="531.1" class="tk" text-anchor="middle">10.0</text>
<line x1="297.55" y1="520" x2="297.55" y2="524" stroke="#444" stroke-width="1"/>
<text x="297.55" y="531.1" class="tk" text-anchor="middle">15.0</text>
<line x1="325.96" y1="520" x2="325.96" y2="524" stroke="#444" stroke-width="1"/>
<text x="325.96" y="531.1" class="tk" text-anchor="middle">20.0</text>
<line x1="354.38" y1="520" x2="354.38" y2="524" stroke="#444" stroke-width="1"/>
<text x="354.38" y="531.1" class="tk" text-anchor="middle">25.0</text>
<line x1="382.79" y1="520" x2="382.79" y2="524" stroke="#444" stroke-width="1"/>
<text x="382.79" y="531.1" class="tk" text-anchor="middle">30.0</text>
<g fill="#d6d29d" stroke="#2b2b18" stroke-width="0.9"><rect x="420.7" y="305.89" width="6.59" height="213.21"/><rect x="427.29" y="352.33" width="6.59" height="166.77"/><rect x="433.88" y="337.55" width="6.59" height="181.55"/><rect x="440.47" y="455.77" width="6.59" height="63.33"/><rect x="447.06" y="350.22" width="6.59" height="168.88"/><rect x="453.65" y="504.32" width="6.59" height="14.78"/><rect x="460.24" y="493.77" width="6.59" height="25.33"/><rect x="466.83" y="516.99" width="6.59" height="2.11"/><rect x="473.42" y="421.99" width="6.59" height="97.11"/><rect x="480.01" y="516.99" width="6.59" height="2.11"/><rect x="486.6" y="510.66" width="6.59" height="8.44"/><rect x="493.19" y="516.99" width="6.59" height="2.11"/><rect x="499.78" y="491.66" width="6.59" height="27.44"/><rect x="506.37" y="516.99" width="6.59" height="2.11"/><rect x="526.14" y="489.55" width="6.59" height="29.55"/><rect x="532.73" y="516.99" width="6.59" height="2.11"/><rect x="545.91" y="516.99" width="6.59" height="2.11"/><rect x="552.5" y="516.99" width="6.59" height="2.11"/><rect x="578.86" y="512.77" width="6.59" height="6.33"/><rect x="585.45" y="516.99" width="6.59" height="2.11"/></g>
<polyline fill="none" stroke="#000" stroke-width="1.75" stroke-linejoin="round" points="420.7,457.42 421.56,455.51 422.41,453.61 423.27,451.73 424.13,449.86 424.98,448.01 425.84,446.18 426.69,444.39 427.55,442.63 428.41,440.9 429.26,439.22 430.12,437.59 430.98,436 431.83,434.47 432.69,433 433.55,431.6 434.4,430.26 435.26,428.99 436.11,427.79 436.97,426.68 437.83,425.64 438.68,424.69 439.54,423.83 440.4,423.06 441.25,422.38 442.11,421.79 442.97,421.3 443.82,420.9 444.68,420.61 445.53,420.41 446.39,420.32 447.25,420.32 448.1,420.42 448.96,420.63 449.82,420.93 450.67,421.33 451.53,421.83 452.39,422.43 453.24,423.11 454.1,423.89 454.95,424.76 455.81,425.72 456.67,426.76 457.52,427.88 458.38,429.08 459.24,430.36 460.09,431.7 460.95,433.11 461.81,434.59 462.66,436.12 463.52,437.71 464.38,439.35 465.23,441.03 466.09,442.76 466.94,444.53 467.8,446.32 468.66,448.15 469.51,450 470.37,451.87 471.23,453.76 472.08,455.66 472.94,457.56 473.8,459.47 474.65,461.38 475.51,463.28 476.36,465.18 477.22,467.06 478.08,468.93 478.93,470.78 479.79,472.62 480.65,474.42 481.5,476.2 482.36,477.95 483.22,479.67 484.07,481.36 484.93,483.01 485.78,484.62 486.64,486.19 487.5,487.73 488.35,489.22 489.21,490.67 490.07,492.08 490.92,493.45 491.78,494.77 492.64,496.04 493.49,497.27 494.35,498.46 495.2,499.6 496.06,500.7 496.92,501.75 497.77,502.76 498.63,503.73 499.49,504.65 500.34,505.53 501.2,506.37 502.06,507.17 502.91,507.94 503.77,508.66 504.62,509.35 505.48,510 506.34,510.61 507.19,511.2 508.05,511.75 508.91,512.27 509.76,512.75 510.62,513.21 511.48,513.64 512.33,514.05 513.19,514.43 514.04,514.79 514.9,515.12 515.76,515.43 516.61,515.72 517.47,515.99 518.33,516.24 519.18,516.47 520.04,516.69 520.9,516.89 521.75,517.08 522.61,517.25 523.46,517.41 524.32,517.56 525.18,517.7 526.03,517.82 526.89,517.94 527.75,518.04 528.6,518.14 529.46,518.23 530.32,518.31 531.17,518.39 532.03,518.45 532.89,518.52 533.74,518.57 534.6,518.62 535.45,518.67 536.31,518.71 537.17,518.75 538.02,518.79 538.88,518.82 539.74,518.85 540.59,518.88 541.45,518.9 542.31,518.92 543.16,518.94 544.02,518.96 544.87,518.97 545.73,518.99 546.59,519 547.44,519.01 548.3,519.02 549.16,519.03 550.01,519.04 550.87,519.05 551.73,519.05 552.58,519.06 553.44,519.06 554.29,519.07 555.15,519.07 556.01,519.07 556.86,519.08 557.72,519.08 558.58,519.08 559.43,519.08 560.29,519.09 561.15,519.09 562,519.09 562.86,519.09 563.71,519.09 564.57,519.09 565.43,519.09 566.28,519.09 567.14,519.1 568,519.1 568.85,519.1 569.71,519.1 570.57,519.1 571.42,519.1 572.28,519.1 573.13,519.1 573.99,519.1 574.85,519.1 575.7,519.1 576.56,519.1 577.42,519.1 578.27,519.1 579.13,519.1 579.99,519.1 580.84,519.1 581.7,519.1 582.55,519.1 583.41,519.1 584.27,519.1 585.12,519.1 585.98,519.1 586.84,519.1 587.69,519.1 588.55,519.1 589.41,519.1 590.26,519.1 591.12,519.1 591.97,519.1"/>
<rect x="420.7" y="297" width="171.4" height="222.1" fill="none" stroke="#2c2c2c" stroke-width="1.1"/>
<line x1="416.7" y1="519.1" x2="420.7" y2="519.1" stroke="#444" stroke-width="1"/>
<text x="415.7" y="521.2" class="tk" text-anchor="end">0</text>
<line x1="416.7" y1="476.88" x2="420.7" y2="476.88" stroke="#444" stroke-width="1"/>
<text x="415.7" y="478.98" class="tk" text-anchor="end">20</text>
<line x1="416.7" y1="434.66" x2="420.7" y2="434.66" stroke="#444" stroke-width="1"/>
<text x="415.7" y="436.76" class="tk" text-anchor="end">40</text>
<line x1="416.7" y1="392.44" x2="420.7" y2="392.44" stroke="#444" stroke-width="1"/>
<text x="415.7" y="394.54" class="tk" text-anchor="end">60</text>
<line x1="416.7" y1="350.22" x2="420.7" y2="350.22" stroke="#444" stroke-width="1"/>
<text x="415.7" y="352.32" class="tk" text-anchor="end">80</text>
<line x1="416.7" y1="308" x2="420.7" y2="308" stroke="#444" stroke-width="1"/>
<text x="415.7" y="310.1" class="tk" text-anchor="end">100</text>
<line x1="420.7" y1="519.1" x2="420.7" y2="523.1" stroke="#444" stroke-width="1"/>
<text x="420.7" y="530.2" class="tk" text-anchor="middle">0.0</text>
<line x1="473.4" y1="519.1" x2="473.4" y2="523.1" stroke="#444" stroke-width="1"/>
<text x="473.4" y="530.2" class="tk" text-anchor="middle">10.0</text>
<line x1="526.1" y1="519.1" x2="526.1" y2="523.1" stroke="#444" stroke-width="1"/>
<text x="526.1" y="530.2" class="tk" text-anchor="middle">20.0</text>
<line x1="578.8" y1="519.1" x2="578.8" y2="523.1" stroke="#444" stroke-width="1"/>
<text x="578.8" y="530.2" class="tk" text-anchor="middle">30.0</text>
<g fill="#d6d29d" stroke="#2b2b18" stroke-width="0.9"><rect x="599.9" y="326.9" width="7.14" height="192.1"/><rect x="607.04" y="402.89" width="7.14" height="116.11"/><rect x="614.18" y="394.45" width="7.14" height="124.55"/><rect x="621.32" y="326.9" width="7.14" height="192.1"/><rect x="628.46" y="335.34" width="7.14" height="183.66"/><rect x="635.6" y="478.89" width="7.14" height="40.11"/><rect x="642.74" y="502.11" width="7.14" height="16.89"/><rect x="649.88" y="495.78" width="7.14" height="23.22"/><rect x="657.02" y="464.11" width="7.14" height="54.89"/><rect x="664.16" y="516.89" width="7.14" height="2.11"/><rect x="671.3" y="506.33" width="7.14" height="12.67"/><rect x="678.44" y="516.89" width="7.14" height="2.11"/><rect x="685.58" y="495.78" width="7.14" height="23.22"/><rect x="692.72" y="516.89" width="7.14" height="2.11"/><rect x="699.86" y="512.67" width="7.14" height="6.33"/><rect x="714.14" y="506.33" width="7.14" height="12.67"/><rect x="742.7" y="514.78" width="7.14" height="4.22"/><rect x="764.12" y="508.44" width="7.14" height="10.56"/></g>
<polyline fill="none" stroke="#000" stroke-width="1.75" stroke-linejoin="round" points="599.9,455.91 600.76,453.93 601.61,451.96 602.47,449.99 603.33,448.03 604.18,446.09 605.04,444.16 605.9,442.25 606.75,440.37 607.61,438.52 608.47,436.7 609.32,434.92 610.18,433.19 611.03,431.5 611.89,429.86 612.75,428.27 613.6,426.75 614.46,425.29 615.32,423.89 616.17,422.57 617.03,421.32 617.89,420.15 618.74,419.05 619.6,418.05 620.46,417.12 621.31,416.29 622.17,415.54 623.03,414.89 623.88,414.34 624.74,413.88 625.6,413.52 626.45,413.26 627.31,413.09 628.16,413.03 629.02,413.07 629.88,413.2 630.73,413.44 631.59,413.77 632.45,414.21 633.3,414.74 634.16,415.36 635.02,416.08 635.87,416.89 636.73,417.79 637.59,418.78 638.44,419.85 639.3,421 640.16,422.23 641.01,423.53 641.87,424.91 642.73,426.35 643.58,427.86 644.44,429.43 645.29,431.05 646.15,432.73 647.01,434.45 647.86,436.22 648.72,438.03 649.58,439.87 650.43,441.75 651.29,443.65 652.15,445.57 653,447.51 653.86,449.47 654.72,451.43 655.57,453.41 656.43,455.38 657.29,457.36 658.14,459.33 659,461.29 659.86,463.24 660.71,465.17 661.57,467.09 662.42,468.98 663.28,470.85 664.14,472.7 664.99,474.52 665.85,476.3 666.71,478.06 667.56,479.77 668.42,481.45 669.28,483.1 670.13,484.7 670.99,486.26 671.85,487.79 672.7,489.26 673.56,490.7 674.42,492.09 675.27,493.44 676.13,494.74 676.99,496 677.84,497.21 678.7,498.38 679.55,499.51 680.41,500.59 681.27,501.62 682.12,502.62 682.98,503.57 683.84,504.48 684.69,505.35 685.55,506.18 686.41,506.97 687.26,507.72 688.12,508.44 688.98,509.12 689.83,509.76 690.69,510.37 691.55,510.95 692.4,511.5 693.26,512.01 694.12,512.5 694.97,512.96 695.83,513.39 696.68,513.79 697.54,514.17 698.4,514.53 699.25,514.87 700.11,515.18 700.97,515.47 701.82,515.75 702.68,516 703.54,516.24 704.39,516.46 705.25,516.66 706.11,516.86 706.96,517.03 707.82,517.2 708.68,517.35 709.53,517.49 710.39,517.62 711.25,517.74 712.1,517.85 712.96,517.95 713.81,518.05 714.67,518.13 715.53,518.21 716.38,518.29 717.24,518.35 718.1,518.41 718.95,518.47 719.81,518.52 720.67,518.57 721.52,518.61 722.38,518.65 723.24,518.68 724.09,518.71 724.95,518.74 725.81,518.77 726.66,518.79 727.52,518.81 728.38,518.83 729.23,518.85 730.09,518.87 730.94,518.88 731.8,518.89 732.66,518.9 733.51,518.92 734.37,518.92 735.23,518.93 736.08,518.94 736.94,518.95 737.8,518.95 738.65,518.96 739.51,518.96 740.37,518.97 741.22,518.97 742.08,518.97 742.94,518.98 743.79,518.98 744.65,518.98 745.5,518.98 746.36,518.99 747.22,518.99 748.07,518.99 748.93,518.99 749.79,518.99 750.64,518.99 751.5,518.99 752.36,518.99 753.21,519 754.07,519 754.93,519 755.78,519 756.64,519 757.5,519 758.35,519 759.21,519 760.07,519 760.92,519 761.78,519 762.63,519 763.49,519 764.35,519 765.2,519 766.06,519 766.92,519 767.77,519 768.63,519 769.49,519 770.34,519 771.2,519"/>
<rect x="599.9" y="297.1" width="171.3" height="221.9" fill="none" stroke="#2c2c2c" stroke-width="1.1"/>
<line x1="599.9" y1="519" x2="599.9" y2="523" stroke="#444" stroke-width="1"/>
<text x="599.9" y="530.1" class="tk" text-anchor="middle">0.0</text>
<line x1="628.45" y1="519" x2="628.45" y2="523" stroke="#444" stroke-width="1"/>
<text x="628.45" y="530.1" class="tk" text-anchor="middle">5.0</text>
<line x1="657" y1="519" x2="657" y2="523" stroke="#444" stroke-width="1"/>
<text x="657" y="530.1" class="tk" text-anchor="middle">10.0</text>
<line x1="685.55" y1="519" x2="685.55" y2="523" stroke="#444" stroke-width="1"/>
<text x="685.55" y="530.1" class="tk" text-anchor="middle">15.0</text>
<line x1="714.1" y1="519" x2="714.1" y2="523" stroke="#444" stroke-width="1"/>
<text x="714.1" y="530.1" class="tk" text-anchor="middle">20.0</text>
<line x1="742.65" y1="519" x2="742.65" y2="523" stroke="#444" stroke-width="1"/>
<text x="742.65" y="530.1" class="tk" text-anchor="middle">25.0</text>
<line x1="771.2" y1="519" x2="771.2" y2="523" stroke="#444" stroke-width="1"/>
<text x="771.2" y="530.1" class="tk" text-anchor="middle">30.0</text>
<rect x="32.5" y="562.5" width="342" height="233" fill="none" stroke="#454545" stroke-width="1.1"/>
<line x1="28" y1="783.7" x2="32.5" y2="783.7" stroke="#444" stroke-width="1"/>
<text x="27.5" y="785.8" class="tk" text-anchor="end">0.00000</text>
<line x1="28" y1="741.8" x2="32.5" y2="741.8" stroke="#444" stroke-width="1"/>
<text x="27.5" y="743.9" class="tk" text-anchor="end">0.20000</text>
<line x1="28" y1="699.9" x2="32.5" y2="699.9" stroke="#444" stroke-width="1"/>
<text x="27.5" y="702" class="tk" text-anchor="end">0.40000</text>
<line x1="28" y1="658" x2="32.5" y2="658" stroke="#444" stroke-width="1"/>
<text x="27.5" y="660.1" class="tk" text-anchor="end">0.60000</text>
<line x1="28" y1="616.1" x2="32.5" y2="616.1" stroke="#444" stroke-width="1"/>
<text x="27.5" y="618.2" class="tk" text-anchor="end">0.80000</text>
<line x1="28" y1="574.2" x2="32.5" y2="574.2" stroke="#444" stroke-width="1"/>
<text x="27.5" y="576.3" class="tk" text-anchor="end">1.00000</text>
<rect x="424" y="562.5" width="343.5" height="233" fill="none" stroke="#454545" stroke-width="1.1"/>
<line x1="126.5" y1="586.5" x2="126.5" y2="632.5" stroke="#111" stroke-width="1.1"/>
<line x1="126.5" y1="679.5" x2="126.5" y2="749.5" stroke="#111" stroke-width="1.1"/>
<line x1="107.2" y1="586.5" x2="145.8" y2="586.5" stroke="#111" stroke-width="1.1"/>
<line x1="107.2" y1="749.5" x2="145.8" y2="749.5" stroke="#111" stroke-width="1.1"/>
<rect x="68.5" y="632.5" width="116" height="47" fill="#d6d29d" stroke="#222" stroke-width="1"/>
<line x1="68.5" y1="656" x2="184.5" y2="656" stroke="#000" stroke-width="3.1"/>
<line x1="280.5" y1="576.5" x2="280.5" y2="594.5" stroke="#111" stroke-width="1.1"/>
<line x1="280.5" y1="647.5" x2="280.5" y2="725" stroke="#111" stroke-width="1.1"/>
<line x1="261.2" y1="576.5" x2="299.8" y2="576.5" stroke="#111" stroke-width="1.1"/>
<line x1="261.2" y1="725" x2="299.8" y2="725" stroke="#111" stroke-width="1.1"/>
<rect x="222.5" y="594.5" width="115" height="53" fill="#d6d29d" stroke="#222" stroke-width="1"/>
<line x1="222.5" y1="618.6" x2="337.5" y2="618.6" stroke="#000" stroke-width="3.1"/>
<line x1="518.5" y1="586.5" x2="518.5" y2="630.5" stroke="#111" stroke-width="1.1"/>
<line x1="518.5" y1="676.5" x2="518.5" y2="745.5" stroke="#111" stroke-width="1.1"/>
<line x1="499.5" y1="586.5" x2="537.5" y2="586.5" stroke="#111" stroke-width="1.1"/>
<line x1="499.5" y1="745.5" x2="537.5" y2="745.5" stroke="#111" stroke-width="1.1"/>
<rect x="460.5" y="630.5" width="115.5" height="46" fill="#d6d29d" stroke="#222" stroke-width="1"/>
<line x1="460.5" y1="651.6" x2="576" y2="651.6" stroke="#000" stroke-width="3.1"/>
<line x1="672.5" y1="584.5" x2="672.5" y2="629.5" stroke="#111" stroke-width="1.1"/>
<line x1="672.5" y1="676.5" x2="672.5" y2="745.5" stroke="#111" stroke-width="1.1"/>
<line x1="653.4" y1="584.5" x2="691.6" y2="584.5" stroke="#111" stroke-width="1.1"/>
<line x1="653.4" y1="745.5" x2="691.6" y2="745.5" stroke="#111" stroke-width="1.1"/>
<rect x="614.5" y="629.5" width="116" height="47" fill="#d6d29d" stroke="#222" stroke-width="1"/>
<line x1="614.5" y1="651" x2="730.5" y2="651" stroke="#000" stroke-width="3.1"/>
<circle cx="126.6" cy="752.3" r="1.75" fill="none" stroke="#111" stroke-width="0.95"/>
<circle cx="126.6" cy="754.4" r="1.75" fill="none" stroke="#111" stroke-width="0.95"/>
<circle cx="126.6" cy="756.3" r="1.75" fill="none" stroke="#111" stroke-width="0.95"/>
<circle cx="126.6" cy="762.6" r="1.75" fill="none" stroke="#111" stroke-width="0.95"/>
<text x="129.3" y="758.8" class="ol" textLength="11" lengthAdjust="spacingAndGlyphs">812</text>
<text x="129.3" y="764.9" class="ol" textLength="17.2" lengthAdjust="spacingAndGlyphs">1,748</text>
<circle cx="280.4" cy="729.8" r="1.75" fill="none" stroke="#111" stroke-width="0.95"/>
<circle cx="280.4" cy="732.6" r="1.75" fill="none" stroke="#111" stroke-width="0.95"/>
<circle cx="280.4" cy="735.5" r="1.75" fill="none" stroke="#111" stroke-width="0.95"/>
<circle cx="280.4" cy="738.3" r="1.75" fill="none" stroke="#111" stroke-width="0.95"/>
<circle cx="280.4" cy="745.2" r="1.75" fill="none" stroke="#111" stroke-width="0.95"/>
<circle cx="280.4" cy="751.2" r="1.75" fill="none" stroke="#111" stroke-width="0.95"/>
<circle cx="280.4" cy="752.6" r="1.75" fill="none" stroke="#111" stroke-width="0.95"/>
<text x="283.5" y="732.6" class="ol" textLength="16.6" lengthAdjust="spacingAndGlyphs">1,539</text>
<text x="283.5" y="740.6" class="ol" textLength="16.6" lengthAdjust="spacingAndGlyphs">1,793</text>
<text x="283.5" y="747.2" class="ol" textLength="16.6" lengthAdjust="spacingAndGlyphs">1,341</text>
<text x="283.5" y="754.2" class="ol" textLength="16.6" lengthAdjust="spacingAndGlyphs">1,372</text>
<circle cx="518.1" cy="747.9" r="1.75" fill="none" stroke="#111" stroke-width="0.95"/>
<circle cx="518.1" cy="754" r="1.75" fill="none" stroke="#111" stroke-width="0.95"/>
<text x="519.9" y="750.9" class="ol" textLength="12" lengthAdjust="spacingAndGlyphs">603</text>
<text x="519.9" y="756.1" class="ol" textLength="12" lengthAdjust="spacingAndGlyphs">792</text>
<circle cx="672.3" cy="750" r="1.75" fill="none" stroke="#111" stroke-width="0.95"/>
<circle cx="672.3" cy="751.4" r="1.75" fill="none" stroke="#111" stroke-width="0.95"/>
<text x="674.8" y="754.9" class="ol" textLength="11.5" lengthAdjust="spacingAndGlyphs">693</text>

<text x="169.6" y="8.7" class="h1" textLength="84.8" lengthAdjust="spacingAndGlyphs">Before Matching</text>
<text x="562.0" y="12.0" class="h1" textLength="76.3" lengthAdjust="spacingAndGlyphs">After Matching</text>
<text x="85.2" y="29.1" class="h2" textLength="85.2" lengthAdjust="spacingAndGlyphs">Community-based</text>
<text x="254.5" y="30.2" class="h2" textLength="91" lengthAdjust="spacingAndGlyphs">Uni. Hospital-based</text>
<text x="467.1" y="30.9" class="h2" textLength="85.1" lengthAdjust="spacingAndGlyphs">Community-based</text>
<text x="636.1" y="31.9" class="h2" textLength="90.6" lengthAdjust="spacingAndGlyphs">Uni. Hospital-based</text>
<text x="0.3" y="42.7" class="big" style="font-size:16.5px">a.</text>
<text x="15.9" y="43.1" class="h3" textLength="44.6" lengthAdjust="spacingAndGlyphs">Age &amp; S-PP</text>
<text x="2.4" y="552.7" class="big" style="font-size:16px">b.</text>
<text x="18.9" y="552.9" class="h3" textLength="65.4" lengthAdjust="spacingAndGlyphs">Propensity score</text>
<text x="203.0" y="290.2" class="ax" textLength="14.4" lengthAdjust="spacingAndGlyphs">Age</text>
<text x="203.3" y="539.9" class="ax" textLength="17.3" lengthAdjust="spacingAndGlyphs">S-PP</text>
<text class="ax" transform="translate(17.1 149.8) rotate(90)" text-anchor="middle">Frequency</text>
<text class="ax" transform="translate(9.3 407.7) rotate(90)" text-anchor="middle">Frequency</text>

</svg>
</body></html>
